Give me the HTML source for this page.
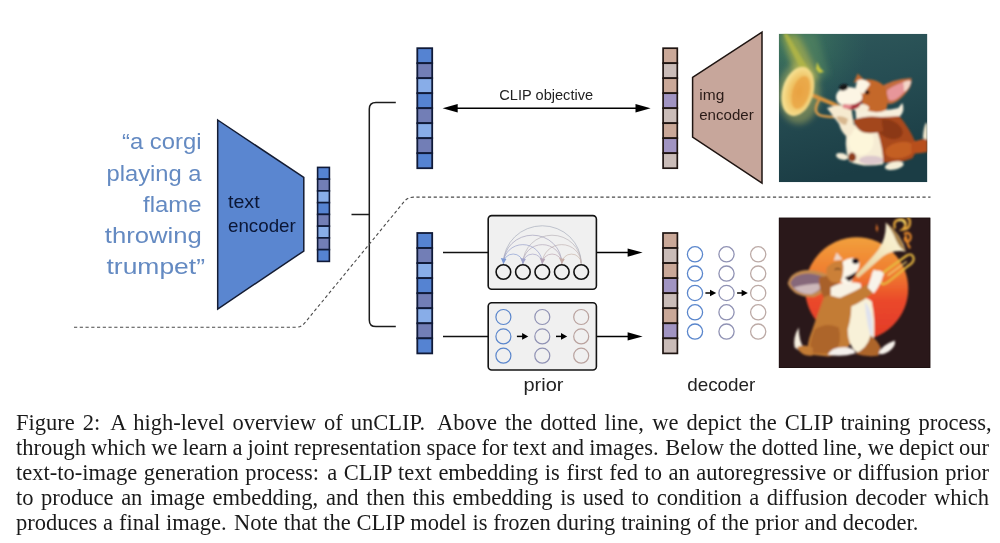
<!DOCTYPE html>
<html><head><meta charset="utf-8"><title>unCLIP figure</title>
<style>
html,body{margin:0;padding:0;background:#fff;}
body{width:1000px;height:543px;position:relative;overflow:hidden;font-family:"Liberation Serif",serif;}
.cl{position:absolute;left:16px;font-size:22.5px;line-height:30px;height:30px;color:#1a1a1a;white-space:nowrap;will-change:transform;}
</style></head><body>
<svg width="1000" height="400" viewBox="0 0 1000 400" style="position:absolute;left:0;top:0;will-change:transform">
<polygon points="217.7,120 303.8,177.5 303.8,251 217.7,309" fill="#5a86d0" stroke="#141c33" stroke-width="1.5" stroke-linejoin="miter"/>
<rect x="317.60" y="167.40" width="11.80" height="11.75" fill="#5583d2" stroke="#101a38" stroke-width="1.6"/>
<rect x="317.60" y="179.15" width="11.80" height="11.75" fill="#727eb6" stroke="#101a38" stroke-width="1.6"/>
<rect x="317.60" y="190.90" width="11.80" height="11.75" fill="#88ade8" stroke="#101a38" stroke-width="1.6"/>
<rect x="317.60" y="202.65" width="11.80" height="11.75" fill="#5583d2" stroke="#101a38" stroke-width="1.6"/>
<rect x="317.60" y="214.40" width="11.80" height="11.75" fill="#727eb6" stroke="#101a38" stroke-width="1.6"/>
<rect x="317.60" y="226.15" width="11.80" height="11.75" fill="#88ade8" stroke="#101a38" stroke-width="1.6"/>
<rect x="317.60" y="237.90" width="11.80" height="11.75" fill="#727eb6" stroke="#101a38" stroke-width="1.6"/>
<rect x="317.60" y="249.65" width="11.80" height="11.75" fill="#5583d2" stroke="#101a38" stroke-width="1.6"/>
<path d="M351.5,214.5 H369.3 M395.8,102.4 H376 Q369.3,102.4 369.3,109 V320 Q369.3,326.6 376,326.6 H395.8" fill="none" stroke="#1c1c1c" stroke-width="1.5"/>
<path d="M74,327.3 H296 Q301,327.3 304.5,323.2 L404.5,201.2 Q408,197.1 413.5,197.1 H930.5" fill="none" stroke="#4a4a4a" stroke-width="1.1" stroke-dasharray="3.2 2.55"/>
<rect x="417.30" y="48.20" width="14.90" height="15.00" fill="#5583d2" stroke="#101a38" stroke-width="1.8"/>
<rect x="417.30" y="63.20" width="14.90" height="15.00" fill="#727eb6" stroke="#101a38" stroke-width="1.8"/>
<rect x="417.30" y="78.20" width="14.90" height="15.00" fill="#88ade8" stroke="#101a38" stroke-width="1.8"/>
<rect x="417.30" y="93.20" width="14.90" height="15.00" fill="#5583d2" stroke="#101a38" stroke-width="1.8"/>
<rect x="417.30" y="108.20" width="14.90" height="15.00" fill="#727eb6" stroke="#101a38" stroke-width="1.8"/>
<rect x="417.30" y="123.20" width="14.90" height="15.00" fill="#88ade8" stroke="#101a38" stroke-width="1.8"/>
<rect x="417.30" y="138.20" width="14.90" height="15.00" fill="#727eb6" stroke="#101a38" stroke-width="1.8"/>
<rect x="417.30" y="153.20" width="14.90" height="15.00" fill="#5583d2" stroke="#101a38" stroke-width="1.8"/>
<rect x="663.10" y="48.20" width="14.20" height="15.00" fill="#caa898" stroke="#1f1512" stroke-width="1.7"/>
<rect x="663.10" y="63.20" width="14.20" height="15.00" fill="#cabcb8" stroke="#1f1512" stroke-width="1.7"/>
<rect x="663.10" y="78.20" width="14.20" height="15.00" fill="#caa898" stroke="#1f1512" stroke-width="1.7"/>
<rect x="663.10" y="93.20" width="14.20" height="15.00" fill="#a194c2" stroke="#1f1512" stroke-width="1.7"/>
<rect x="663.10" y="108.20" width="14.20" height="15.00" fill="#cabcb8" stroke="#1f1512" stroke-width="1.7"/>
<rect x="663.10" y="123.20" width="14.20" height="15.00" fill="#caa898" stroke="#1f1512" stroke-width="1.7"/>
<rect x="663.10" y="138.20" width="14.20" height="15.00" fill="#a194c2" stroke="#1f1512" stroke-width="1.7"/>
<rect x="663.10" y="153.20" width="14.20" height="15.00" fill="#cabcb8" stroke="#1f1512" stroke-width="1.7"/>
<rect x="417.30" y="233.00" width="14.90" height="15.05" fill="#5583d2" stroke="#101a38" stroke-width="1.8"/>
<rect x="417.30" y="248.05" width="14.90" height="15.05" fill="#727eb6" stroke="#101a38" stroke-width="1.8"/>
<rect x="417.30" y="263.10" width="14.90" height="15.05" fill="#88ade8" stroke="#101a38" stroke-width="1.8"/>
<rect x="417.30" y="278.15" width="14.90" height="15.05" fill="#5583d2" stroke="#101a38" stroke-width="1.8"/>
<rect x="417.30" y="293.20" width="14.90" height="15.05" fill="#727eb6" stroke="#101a38" stroke-width="1.8"/>
<rect x="417.30" y="308.25" width="14.90" height="15.05" fill="#88ade8" stroke="#101a38" stroke-width="1.8"/>
<rect x="417.30" y="323.30" width="14.90" height="15.05" fill="#727eb6" stroke="#101a38" stroke-width="1.8"/>
<rect x="417.30" y="338.35" width="14.90" height="15.05" fill="#5583d2" stroke="#101a38" stroke-width="1.8"/>
<rect x="663.00" y="233.00" width="14.40" height="15.05" fill="#caa898" stroke="#1f1512" stroke-width="1.7"/>
<rect x="663.00" y="248.05" width="14.40" height="15.05" fill="#cabcb8" stroke="#1f1512" stroke-width="1.7"/>
<rect x="663.00" y="263.10" width="14.40" height="15.05" fill="#caa898" stroke="#1f1512" stroke-width="1.7"/>
<rect x="663.00" y="278.15" width="14.40" height="15.05" fill="#a194c2" stroke="#1f1512" stroke-width="1.7"/>
<rect x="663.00" y="293.20" width="14.40" height="15.05" fill="#cabcb8" stroke="#1f1512" stroke-width="1.7"/>
<rect x="663.00" y="308.25" width="14.40" height="15.05" fill="#caa898" stroke="#1f1512" stroke-width="1.7"/>
<rect x="663.00" y="323.30" width="14.40" height="15.05" fill="#a194c2" stroke="#1f1512" stroke-width="1.7"/>
<rect x="663.00" y="338.35" width="14.40" height="15.05" fill="#cabcb8" stroke="#1f1512" stroke-width="1.7"/>
<line x1="455" y1="108.2" x2="638" y2="108.2" stroke="#000" stroke-width="1.5"/>
<polygon points="442.6,108.2 457.7,104 457.7,112.4" fill="#000"/>
<polygon points="650.6,108.2 635.5,104 635.5,112.4" fill="#000"/>
<polygon points="692.6,77.4 762,32.2 762,183.2 692.6,137.2" fill="#c7a69b" stroke="#1f1512" stroke-width="1.5"/>
<line x1="443" y1="252.6" x2="488" y2="252.6" stroke="#111" stroke-width="1.5"/>
<line x1="443" y1="336.4" x2="488" y2="336.4" stroke="#111" stroke-width="1.5"/>
<line x1="596" y1="252.6" x2="630" y2="252.6" stroke="#000" stroke-width="1.5"/>
<polygon points="642.6,252.6 627.6,248.5 627.6,256.7" fill="#000"/>
<line x1="596" y1="336.4" x2="630" y2="336.4" stroke="#000" stroke-width="1.5"/>
<polygon points="642.6,336.4 627.6,332.3 627.6,340.5" fill="#000"/>
<rect x="488.2" y="215.6" width="108.2" height="73.6" rx="3.5" fill="#f0f0f0" stroke="#141414" stroke-width="1.6"/>
<rect x="488.2" y="302.8" width="108.2" height="67.2" rx="3.5" fill="#f0f0f0" stroke="#141414" stroke-width="1.6"/>
<path d="M581.2,263.5 A38.90,37.73 0 0 0 503.4,263.5" fill="none" stroke="#a6acbb" stroke-width="0.9" opacity="0.75"/>
<path d="M581.2,263.5 A29.15,28.28 0 0 0 522.9,263.5" fill="none" stroke="#b7b1b8" stroke-width="0.9" opacity="0.75"/>
<path d="M581.2,263.5 A19.45,18.87 0 0 0 542.3,263.5" fill="none" stroke="#c0b2b1" stroke-width="0.9" opacity="0.75"/>
<path d="M581.2,263.5 A9.70,9.41 0 0 0 561.8,263.5" fill="none" stroke="#c8b4a8" stroke-width="0.9" opacity="0.75"/>
<path d="M561.8,263.5 A29.20,28.32 0 0 0 503.4,263.5" fill="none" stroke="#a2a0bb" stroke-width="0.9" opacity="0.75"/>
<path d="M561.8,263.5 A19.45,18.87 0 0 0 522.9,263.5" fill="none" stroke="#b2a5b8" stroke-width="0.9" opacity="0.75"/>
<path d="M561.8,263.5 A9.75,9.46 0 0 0 542.3,263.5" fill="none" stroke="#bca6b1" stroke-width="0.9" opacity="0.75"/>
<path d="M542.3,263.5 A19.45,18.87 0 0 0 503.4,263.5" fill="none" stroke="#969ec9" stroke-width="0.9" opacity="0.75"/>
<path d="M542.3,263.5 A9.70,9.41 0 0 0 522.9,263.5" fill="none" stroke="#a6a3c6" stroke-width="0.9" opacity="0.75"/>
<path d="M522.9,263.5 A9.75,9.46 0 0 0 503.4,263.5" fill="none" stroke="#879cd3" stroke-width="0.9" opacity="0.75"/>
<path d="M500.8,258.0 L506.4,259.0 L503.4,264.0 Z" fill="#7b98d5"/>
<path d="M520.3,258.0 L525.9,259.0 L522.9,264.0 Z" fill="#9fa2cb"/>
<path d="M539.7,258.0 L545.3,259.0 L542.3,264.0 Z" fill="#b6a5b8"/>
<path d="M559.2,258.0 L564.8,259.0 L561.8,264.0 Z" fill="#c6aea8"/>
<circle cx="503.4" cy="272" r="7.3" fill="#f0f0f0" stroke="#111" stroke-width="1.6"/>
<circle cx="522.9" cy="272" r="7.3" fill="#f0f0f0" stroke="#111" stroke-width="1.6"/>
<circle cx="542.3" cy="272" r="7.3" fill="#f0f0f0" stroke="#111" stroke-width="1.6"/>
<circle cx="561.8" cy="272" r="7.3" fill="#f0f0f0" stroke="#111" stroke-width="1.6"/>
<circle cx="581.2" cy="272" r="7.3" fill="#f0f0f0" stroke="#111" stroke-width="1.6"/>
<circle cx="503.4" cy="317" r="7.5" fill="none" stroke="#5a86cc" stroke-width="1.2"/>
<circle cx="503.4" cy="336.4" r="7.5" fill="none" stroke="#5a86cc" stroke-width="1.2"/>
<circle cx="503.4" cy="355.7" r="7.5" fill="none" stroke="#5a86cc" stroke-width="1.2"/>
<circle cx="542.3" cy="317" r="7.5" fill="none" stroke="#9092b4" stroke-width="1.2"/>
<circle cx="542.3" cy="336.4" r="7.5" fill="none" stroke="#9092b4" stroke-width="1.2"/>
<circle cx="542.3" cy="355.7" r="7.5" fill="none" stroke="#9092b4" stroke-width="1.2"/>
<circle cx="581.2" cy="317" r="7.5" fill="none" stroke="#b9a29e" stroke-width="1.2"/>
<circle cx="581.2" cy="336.4" r="7.5" fill="none" stroke="#b9a29e" stroke-width="1.2"/>
<circle cx="581.2" cy="355.7" r="7.5" fill="none" stroke="#b9a29e" stroke-width="1.2"/>
<line x1="516.9" y1="336.4" x2="524.3" y2="336.4" stroke="#000" stroke-width="1.5"/>
<polygon points="528.3,336.4 522.0999999999999,333.09999999999997 522.0999999999999,339.7" fill="#000"/>
<line x1="556" y1="336.4" x2="563.2" y2="336.4" stroke="#000" stroke-width="1.5"/>
<polygon points="567.2,336.4 561.0,333.09999999999997 561.0,339.7" fill="#000"/>
<circle cx="695" cy="254.3" r="7.6" fill="none" stroke="#5a86cc" stroke-width="1.3"/>
<circle cx="695" cy="273.6" r="7.6" fill="none" stroke="#5a86cc" stroke-width="1.3"/>
<circle cx="695" cy="293" r="7.6" fill="none" stroke="#5a86cc" stroke-width="1.3"/>
<circle cx="695" cy="312.3" r="7.6" fill="none" stroke="#5a86cc" stroke-width="1.3"/>
<circle cx="695" cy="331.6" r="7.6" fill="none" stroke="#5a86cc" stroke-width="1.3"/>
<circle cx="726.5" cy="254.3" r="7.6" fill="none" stroke="#9092b4" stroke-width="1.3"/>
<circle cx="726.5" cy="273.6" r="7.6" fill="none" stroke="#9092b4" stroke-width="1.3"/>
<circle cx="726.5" cy="293" r="7.6" fill="none" stroke="#9092b4" stroke-width="1.3"/>
<circle cx="726.5" cy="312.3" r="7.6" fill="none" stroke="#9092b4" stroke-width="1.3"/>
<circle cx="726.5" cy="331.6" r="7.6" fill="none" stroke="#9092b4" stroke-width="1.3"/>
<circle cx="758.2" cy="254.3" r="7.6" fill="none" stroke="#bcaaa6" stroke-width="1.3"/>
<circle cx="758.2" cy="273.6" r="7.6" fill="none" stroke="#bcaaa6" stroke-width="1.3"/>
<circle cx="758.2" cy="293" r="7.6" fill="none" stroke="#bcaaa6" stroke-width="1.3"/>
<circle cx="758.2" cy="312.3" r="7.6" fill="none" stroke="#bcaaa6" stroke-width="1.3"/>
<circle cx="758.2" cy="331.6" r="7.6" fill="none" stroke="#bcaaa6" stroke-width="1.3"/>
<line x1="705.4" y1="293" x2="712.2" y2="293" stroke="#000" stroke-width="1.5"/>
<polygon points="716.2,293 710.0,289.7 710.0,296.3" fill="#000"/>
<line x1="737.1" y1="293" x2="743.8" y2="293" stroke="#000" stroke-width="1.5"/>
<polygon points="747.8,293 741.5999999999999,289.7 741.5999999999999,296.3" fill="#000"/>
<g font-family="'Liberation Sans', sans-serif">
<text x="122.0" y="149.4" font-size="22.6" fill="#648ac2" text-anchor="start" textLength="79.5" lengthAdjust="spacingAndGlyphs">“a corgi</text>
<text x="106.5" y="180.8" font-size="22.6" fill="#648ac2" text-anchor="start" textLength="95" lengthAdjust="spacingAndGlyphs">playing a</text>
<text x="143.0" y="211.8" font-size="22.6" fill="#648ac2" text-anchor="start" textLength="58.5" lengthAdjust="spacingAndGlyphs">flame</text>
<text x="104.80000000000001" y="243.0" font-size="22.6" fill="#648ac2" text-anchor="start" textLength="97" lengthAdjust="spacingAndGlyphs">throwing</text>
<text x="106.5" y="273.7" font-size="22.6" fill="#648ac2" text-anchor="start" textLength="98.5" lengthAdjust="spacingAndGlyphs">trumpet”</text>
<text x="228" y="208" font-size="19" fill="#0b1634" text-anchor="start" textLength="31.6" lengthAdjust="spacingAndGlyphs">text</text>
<text x="228" y="232" font-size="19" fill="#0b1634" text-anchor="start" textLength="67.8" lengthAdjust="spacingAndGlyphs">encoder</text>
<text x="699.3" y="100.2" font-size="15" fill="#2a1b17" text-anchor="start" textLength="25" lengthAdjust="spacingAndGlyphs">img</text>
<text x="699.2" y="119.5" font-size="15" fill="#2a1b17" text-anchor="start" textLength="54.5" lengthAdjust="spacingAndGlyphs">encoder</text>
<text x="499.3" y="100.2" font-size="15.2" fill="#222" text-anchor="start" textLength="93.8" lengthAdjust="spacingAndGlyphs">CLIP objective</text>
<text x="523.5" y="391.2" font-size="19" fill="#222" text-anchor="start" textLength="40" lengthAdjust="spacingAndGlyphs">prior</text>
<text x="687.2" y="391.2" font-size="19" fill="#222" text-anchor="start" textLength="68.2" lengthAdjust="spacingAndGlyphs">decoder</text>
</g>
<svg x="778.8" y="33.8" width="148.6" height="148.4" viewBox="0 0 148 148" preserveAspectRatio="none" overflow="hidden">
<defs>
<linearGradient id="bg1" x1="0" y1="0" x2="0.25" y2="1"><stop offset="0" stop-color="#2f595b"/><stop offset="0.45" stop-color="#264d53"/><stop offset="1" stop-color="#1b3d45"/></linearGradient>
<radialGradient id="glow1" cx="0.1" cy="0.05" r="0.5"><stop offset="0" stop-color="#47805f" stop-opacity="0.9"/><stop offset="1" stop-color="#2f6a5c" stop-opacity="0"/></radialGradient>
<linearGradient id="beam" x1="0" y1="0" x2="0.45" y2="1"><stop offset="0" stop-color="#9aa848" stop-opacity="0.75"/><stop offset="1" stop-color="#d8c850" stop-opacity="0.55"/></linearGradient>
<radialGradient id="bell" cx="0.55" cy="0.5" r="0.6"><stop offset="0" stop-color="#eaa844"/><stop offset="0.5" stop-color="#f0c466"/><stop offset="1" stop-color="#f8eca4"/></radialGradient>
<filter id="b1" x="-20%" y="-20%" width="140%" height="140%"><feGaussianBlur stdDeviation="0.8"/></filter>
<filter id="b3" x="-30%" y="-30%" width="160%" height="160%"><feGaussianBlur stdDeviation="3"/></filter>
</defs>
<rect width="148" height="148" fill="url(#bg1)"/>
<rect width="148" height="148" fill="url(#glow1)"/>
<g filter="url(#b3)">
<polygon points="2,0 18,0 42,44 20,50" fill="url(#beam)"/>
<polygon points="20,0 38,0 50,40 38,46" fill="#5a8a60" opacity="0.5"/>
<ellipse cx="20" cy="60" rx="21" ry="30" fill="#d8cc60" opacity="0.4"/>
</g>
<g filter="url(#b1)">
<polygon points="4.5,0 8.5,0 30,36 23,38" fill="#b4b844" opacity="0.8"/>
<!-- trumpet tube -->
<path d="M30,60 Q50,68 72,78" stroke="#d8923e" stroke-width="4" fill="none"/>
<path d="M40,66 Q32,80 44,82 Q56,84 66,82" stroke="#d89a4a" stroke-width="2.6" fill="none"/>
<!-- bell -->
<ellipse cx="19" cy="57.5" rx="15.5" ry="25" transform="rotate(16 19 57.5)" fill="url(#bell)"/>
<ellipse cx="22" cy="58.5" rx="8.5" ry="17" transform="rotate(16 22 58.5)" fill="#e8a040" opacity="0.7"/>
<path d="M38,28 l3,6 l4,4 l-5,1 l-3,-4 z" fill="#c8c840"/>
<!-- big ear -->
<path d="M100,54 Q112,45 132,44 Q134,52 124,62 Q116,70 110,70 Q102,66 100,54 Z" fill="#c46c3c"/>
<path d="M108,56 Q118,49 130,47 Q130,54 121,62 Q114,68 110,66 Q107,62 108,56 Z" fill="#e7969a"/>
<path d="M124,48 Q131,45 132,48 Q130,55 125,58 Z" fill="#f4d6c8"/>
<!-- small ear -->
<path d="M74.5,49 L78.5,39.5 L85.5,46 Z" fill="#c06a30"/>
<!-- back brown body -->
<path d="M96,82 Q110,79 120,82 Q130,94 136,108 Q138,118 133,124 Q118,130 104,128 Q97,118 97,104 Z" fill="#a9481c"/>
<ellipse cx="110" cy="95" rx="14" ry="9" transform="rotate(25 110 95)" fill="#8b3817"/>
<ellipse cx="121" cy="116" rx="15" ry="8" transform="rotate(-10 121 116)" fill="#c45f24"/>
<!-- tail -->
<path d="M132,108 Q140,106 148,104 L148,118 Q138,120 132,119 Z" fill="#b8501e"/>
<path d="M143.5,104 Q144,94 146.5,89 L148,89 L148,106 Z" fill="#f4ead0"/>
<!-- belly white -->
<path d="M69,92 Q84,88 98,97 Q104,114 104,130 Q84,134 70,127 Q64,110 69,92 Z" fill="#f6ecd4"/>
<ellipse cx="82" cy="107" rx="12.5" ry="14" fill="#fdf6da"/>
<ellipse cx="92" cy="126" rx="12" ry="4.5" fill="#dcc8cc"/>
<!-- white chest under chin + collar tuft -->
<path d="M76,71 Q90,78 104,76 Q112,76 119,74 L123,69 Q126,76 121,82 Q110,83 100,83 Q86,88 77,85 Z" fill="#f7eedb"/>
<!-- arm brown -->
<path d="M74,86 Q86,81 102,83 L104,97 Q92,101 83,98 Q76,94 74,86 Z" fill="#a3461c"/>
<!-- white forearm and paws -->
<path d="M48,74 Q60,69 72,73 L75,92 Q74,102 68,103 Q62,98 60,90 Z" fill="#f6ead0"/>
<path d="M57,83 Q63,81 69,85 L67,91 Q61,91 57,83 Z" fill="#d8b890"/>
<!-- head orange -->
<path d="M82,46 Q96,43 105,52 Q111,64 107,76 Q96,81 85,75 Q79,60 82,46 Z" fill="#c4672c"/>
<!-- muzzle white -->
<ellipse cx="70" cy="63" rx="13" ry="10" fill="#fcf5e4"/>
<path d="M78,47 Q84,43 91,50 L84,60 L76,56 Z" fill="#fcf5e4"/>
<ellipse cx="82" cy="74" rx="8" ry="4" fill="#f6ecd6"/>
<!-- mouth -->
<path d="M64,70 Q74,73 83,66 Q82,75 72,76 Q66,75 64,70 Z" fill="#a8343c"/>
<ellipse cx="68" cy="72.5" rx="4.5" ry="2.2" fill="#e58a90"/>
<!-- nose -->
<ellipse cx="64.5" cy="53.5" rx="4.4" ry="3.2" transform="rotate(-15 64.5 53.5)" fill="#171419"/>
<!-- eye -->
<ellipse cx="88" cy="58.5" rx="2.3" ry="2.1" fill="#2a1510"/>
<!-- paws -->
<ellipse cx="63" cy="122.3" rx="6.2" ry="3.2" transform="rotate(15 63 122.3)" fill="#f4ecd6"/>
<ellipse cx="73" cy="123" rx="4" ry="4.5" fill="#8e3c1a"/>
<ellipse cx="115" cy="131.5" rx="9.5" ry="4" transform="rotate(-12 115 131.5)" fill="#f6efd8"/>
</g>
</svg>

<svg x="778.7" y="217.5" width="151.8" height="150.6" viewBox="0 0 151.8 150.6" preserveAspectRatio="none" overflow="hidden">
<defs>
<linearGradient id="sun" x1="0" y1="0" x2="0" y2="1"><stop offset="0" stop-color="#f2a03c"/><stop offset="0.35" stop-color="#f07c30"/><stop offset="0.62" stop-color="#ea482a"/><stop offset="1" stop-color="#e23a28"/></linearGradient>
<linearGradient id="horn" x1="0" y1="1" x2="1" y2="0"><stop offset="0" stop-color="#e8cf96"/><stop offset="0.6" stop-color="#f6ecc8"/><stop offset="1" stop-color="#fbf4dc"/></linearGradient>
<filter id="c1" x="-20%" y="-20%" width="140%" height="140%"><feGaussianBlur stdDeviation="0.85"/></filter>
</defs>
<rect width="151.8" height="150.6" fill="#2a181a"/>
<rect x="0.4" y="0.4" width="151" height="149.8" fill="none" stroke="#1c1011" stroke-width="0.9"/>
<g filter="url(#c1)">
<circle cx="78" cy="71.3" r="51.5" fill="url(#sun)"/>
<!-- flames -->
<path d="M116,10 Q114,3 121,2 Q126,1 127,6 Q127,10 124,12 Q130,12 131,7 Q132,2 129,0" fill="none" stroke="#e6a83a" stroke-width="2.4" stroke-linecap="round"/>
<path d="M120,3 Q125,2 126,6" fill="none" stroke="#f6e070" stroke-width="1.6" stroke-linecap="round"/>
<path d="M126,16 Q131,14 132,19 Q132,24 128,24 Q125,22 127,19 Q129,28 131,30" fill="none" stroke="#e88a2c" stroke-width="2.2" stroke-linecap="round"/>
<path d="M98,6 l1.5,5 l-1,4 l-1.5,-4 z" fill="#d87028"/>
<!-- trombone slide -->
<path d="M103,66 Q98,60 106,54 L128,38 Q134,35 135,41 Q135,45 130,48 L110,64 Q105,68 103,66 Z" fill="none" stroke="#e6b840" stroke-width="2.2"/>
<path d="M109,58 L128,44" stroke="#f2d070" stroke-width="1.4"/>
<!-- horn cone -->
<path d="M77,57.5 L79.5,60.5 Q96,46 104,39 Q114,32 127,34 Q124,18 107,5 Q108,20 100,32 Q92,42 77,57.5 Z" fill="url(#horn)"/>
<path d="M107,5 Q122,15 127,34 Q121,31 117,22 Q113,12 107,5 Z" fill="#a98248"/>
<!-- big ear -->
<path d="M9,66 Q12,53 30,52.5 Q44,53 53,60 Q50,74 35,79.5 Q15,80 9,66 Z" fill="#c48c50"/>
<path d="M11.5,66 Q14,56.5 30,56 Q42,57 48.5,62 Q44,73 33,76.5 Q17,77.5 11.5,66 Z" fill="#86687a"/>
<path d="M15,70 Q28,66 45,66 Q41,73.5 33,76.5 Q22,77.5 15,70 Z" fill="#cdb8ba"/>
<!-- neck/back tan -->
<path d="M40,60 Q50,56 58,62 L66,80 Q56,88 46,82 Q40,72 40,60 Z" fill="#a8602a"/>
<!-- body tan -->
<path d="M45,80 Q58,72 74,82 Q80,100 74,122 Q68,136 50,139 L30,137 Q27,128 33,114 Q39,96 45,80 Z" fill="#c37c36"/>
<path d="M36,112 Q48,104 60,110 Q64,124 56,136 L32,136 Q30,126 36,112 Z" fill="#ad6529"/>
<!-- tail -->
<path d="M20,110 Q14,120 16,130 Q20,134 26,132 Q20,124 20,110 Z" fill="#f6efe0"/>
<path d="M18,130 Q24,126 34,130 L34,138 Q24,140 18,130 Z" fill="#c37c36"/>
<!-- white belly -->
<path d="M72,82 Q84,76 93,84 Q97,104 95,124 Q90,135 78,135 Q69,128 69,112 Q74,96 72,82 Z" fill="#f8f1d8"/>
<path d="M86,84 Q94,92 94,110 L94,124 Q88,110 86,84 Z" fill="#dfe2ee"/>
<!-- right leg -->
<path d="M92,118 Q98,122 102,130 L100,138 Q88,140 76,136 Q88,132 92,118 Z" fill="#ad6529"/>
<path d="M100,136 Q102,128 116,123 Q118,128 110,134 Q104,138 100,136 Z" fill="#f7f2ec"/>
<!-- left foot -->
<path d="M49,137 Q54,128 70,130 Q78,132 76,136 Q62,140 49,137 Z" fill="#f4f0ec"/>
<!-- white chest -->
<path d="M52,70 Q66,62 82,66 Q84,74 76,80 Q62,82 52,78 Z" fill="#f8f2e4"/>
<!-- arm -->
<path d="M62,80 Q76,74 90,66 L97,72 Q86,84 70,90 Q62,88 62,80 Z" fill="#c37c36"/>
<path d="M89,70 Q92,60 95,52 Q100,54 104,60 Q100,70 95,76 Z" fill="#f8f3ea"/>
<ellipse cx="99" cy="57" rx="6" ry="4" fill="#f8f3ea"/>
<!-- head -->
<path d="M48,50 Q56,42 66,44 L70,60 Q62,68 52,64 Q46,58 48,50 Z" fill="#cb8038"/>
<path d="M55,43 L58,35 L64,42 Z" fill="#f0d8c8"/>
<path d="M64,44 Q72,38 80,42 Q82,48 78,54 L72,66 Q66,68 62,64 Q66,54 64,44 Z" fill="#fbf6ea"/>
<path d="M66,60 Q72,58 78,54 Q76,62 70,64 Z" fill="#2a1518"/>
<ellipse cx="76.8" cy="43.6" rx="3.4" ry="2.8" fill="#15101a"/>
<path d="M56,52 q3,-2 6,0" stroke="#3a2018" stroke-width="1" fill="none"/>
</g>
</svg>

</svg>
<div class="cl" style="top:408.2px;word-spacing:2.285px">Figure 2:<span style="word-spacing:4.55px"> </span>A high-level overview of unCLIP.<span style="word-spacing:6.38px"> </span>Above the dotted line,<span style="word-spacing:2.74px"> </span>we depict the CLIP training process,</div>
<div class="cl" style="top:433.0px;word-spacing:-0.542px">through which we learn a joint representation space for text and images.<span style="word-spacing:1.17px"> </span>Below the dotted line,<span style="word-spacing:-0.43px"> </span>we depict our</div>
<div class="cl" style="top:457.9px;word-spacing:0.894px">text-to-image generation process:<span style="word-spacing:2.60px"> </span>a CLIP text embedding is first fed to an autoregressive or diffusion prior</div>
<div class="cl" style="top:482.7px;word-spacing:1.960px">to produce an image embedding,<span style="word-spacing:2.35px"> </span>and then this embedding is used to condition a diffusion decoder which</div>
<div class="cl" style="top:507.5px;word-spacing:0.220px">produces a final image.<span style="word-spacing:1.83px"> </span>Note that the CLIP model is frozen during training of the prior and decoder.</div>
</body></html>
